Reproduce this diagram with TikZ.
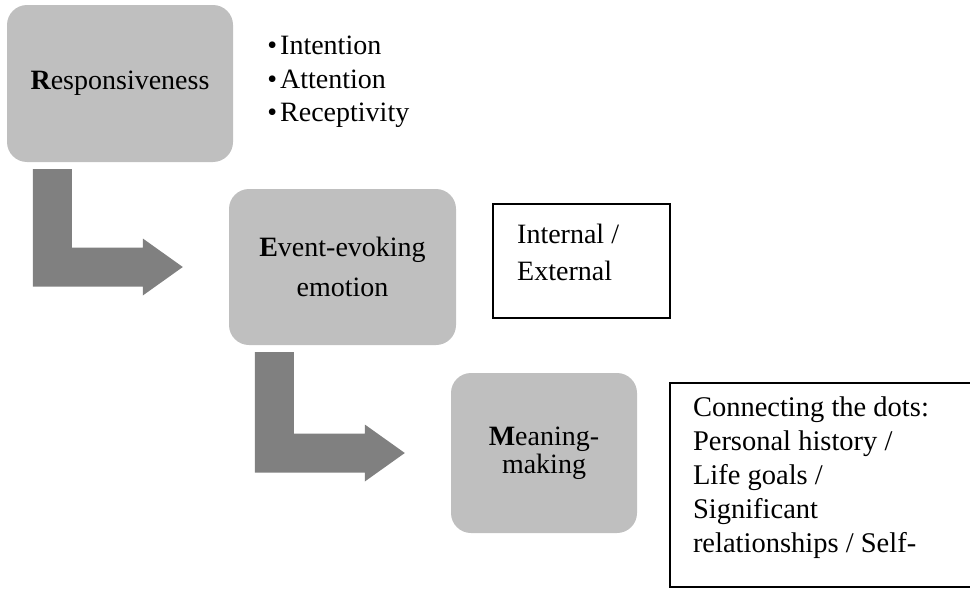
\documentclass[tikz,border=0pt]{standalone}
\usepackage{fontspec}
\setmainfont{Liberation Serif}
\usetikzlibrary{calc,positioning}
\definecolor{stepgray}{HTML}{BFBFBF}
\definecolor{arrowgray}{HTML}{808080}
\tikzset{
    rem box/.style={rounded corners=20pt, fill=stepgray, align=center,
                    inner sep=0pt},
    rem note/.style={draw=black, line width=2pt, inner sep=0pt},
    rem edge/.style={draw=black, line width=2pt},
    rem text/.style={align=left, anchor=north west, inner sep=0pt},
    rem arrow/.style={fill=arrowgray},
}
% bent block arrow: down out of #1, then right towards #2
\newcommand{\bentarrow}[2]{%
    \fill[rem arrow] let \p1 = ($(#1.south west)+(26,7)$),
                         \p2 = ($(#2.west)+(-46,0)$) in
        (\x1,\y1) -- (\x1+39pt,\y1) -- (\x1+39pt,\y2+19.5pt)
        -- (\x2-40pt,\y2+19.5pt) -- (\x2-40pt,\y2+28.5pt) -- (\x2,\y2)
        -- (\x2-40pt,\y2-28.5pt) -- (\x2-40pt,\y2-19.5pt)
        -- (\x1,\y2-19.5pt) -- cycle;}

\begin{document}
\begin{tikzpicture}[x=1pt, y=-1pt, font=\fontsize{28}{34}\selectfont]
    \useasboundingbox (0,0) rectangle (970,597);
    % Steps
    \node[rem box, minimum width=226pt, minimum height=157pt] (resp)
        at (120,83.5) {{\bfseries R}esponsiveness};
    \node[rem box, minimum width=227pt, minimum height=156pt,
          font=\fontsize{28}{40}\selectfont] (event)
        at (342.5,267) {{\bfseries E}vent-evoking\\emotion};
    \node[rem box, minimum width=186pt, minimum height=160pt,
          font=\fontsize{28}{28}\selectfont] (mean)
        at (544,453) {{\bfseries M}eaning-\\making};
    % Arrows between steps
    \bentarrow{resp}{event}
    \bentarrow{event}{mean}
    % Side notes
    \node[rem text, font=\fontsize{28}{33.5}\selectfont] (rlist)
        at ($(resp.north east)+(34,31)$)
        {\textbullet\hspace{3pt}Intention\\
         \textbullet\hspace{3pt}Attention\\
         \textbullet\hspace{3pt}Receptivity};
    \node[rem note, minimum width=177pt, minimum height=114pt] (ie)
        at (581.5,261) {};
    \node[rem text, font=\fontsize{28}{37}\selectfont] (ietext)
        at ($(ie.north west)+(25,21)$) {Internal /\\External};
    \node[minimum width=300pt, minimum height=204pt, inner sep=0pt] (dots)
        at (820,485) {};
    \draw[rem edge] (dots.north east) -- (dots.north west)
        -- (dots.south west) -- (dots.south east);
    \node[rem text, font=\fontsize{28.5}{34}\selectfont] (dotstext)
        at ($(dots.north west)+(23,14)$)
        {Connecting the dots:\\Personal history /\\Life goals /\\
         Significant\\relationships / Self-};
\end{tikzpicture}
\end{document}
